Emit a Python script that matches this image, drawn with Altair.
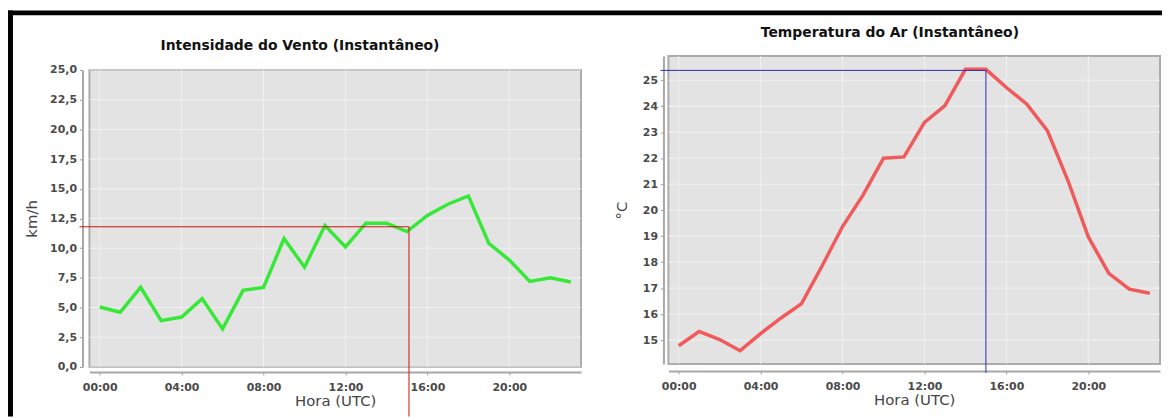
import altair as alt
import pandas as pd

# ---------------- data ----------------
hours = list(range(24))
wind_kmh = [5.05, 4.6, 6.7, 3.9, 4.2, 5.75, 3.2, 6.45, 6.7, 10.8, 8.4, 11.9,
            10.1, 12.1, 12.1, 11.4, 12.75, 13.7, 14.4, 10.4, 9.0, 7.2, 7.5, 7.15]
temp_c = [14.78, 15.33, 15.02, 14.59, 15.25, 15.85, 16.4, 17.85, 19.37, 20.58, 22.0, 22.05,
          23.38, 24.02, 25.42, 25.42, 24.72, 24.08, 23.06, 21.15, 18.97, 17.57, 16.96, 16.80]

hour_ticks = [0, 4, 8, 12, 16, 20]
wind_ticks = [0, 2.5, 5, 7.5, 10, 12.5, 15, 17.5, 20, 22.5, 25]
temp_ticks = [15, 16, 17, 18, 19, 20, 21, 22, 23, 24, 25]

hour_domain = [-0.5, 23.5]
wind_domain = [0, 25]
temp_domain = [14.08, 25.93]

wind_cursor_hour = [15.1]
wind_cursor_value = [11.8]
temp_cursor_hour = [15.0]
temp_cursor_value = [25.38]

title_wind = "Intensidade do Vento (Instantâneo)"
title_temp = "Temperatura do Ar (Instantâneo)"
x_title = "Hora (UTC)"
y_title_wind = "km/h"
y_title_temp = "°C"

# ---------------- layout (pixels, chart coordinates) ----------------
W, H = 1162, 410
L_X, L_Y = [82, 577], [360, 61]
R_X, R_Y = [665, 1160], [357, 47]

FONT = "DejaVu Sans"
hour_label = "(datum.value < 10 ? '0' : '') + datum.value + ':00'"
wind_fmt = "replace(format(datum.value, '.1f'), '.', ',')"
temp_fmt = "format(datum.value, 'd')"


def axis(orient, offset, values, label_expr, title, title_x, title_y):
    kw = dict(
        orient=orient, offset=offset, values=values, labelExpr=label_expr,
        title=title, grid=False,
        domainColor="#a8a8a8", domainWidth=2, tickColor="#999999", tickSize=3,
        labelFont=FONT, labelFontSize=11, labelFontWeight="bold", labelColor="#4a4a4a",
        labelFlush=False, labelOverlap=False,
        titleFont=FONT, titleFontSize=15, titleFontWeight="normal", titleColor="#444444",
        titleAlign="center", titleBaseline="middle", titleX=title_x, titleY=title_y,
    )
    if orient == "left":
        kw.update(labelPadding=3, titleAngle=270)
    else:
        kw.update(labelPadding=7)
    return alt.Axis(**kw)


def panel(values, domain_y, ticks_y, xr, yr, y_off, x_off, y_fmt, y_title, y_title_x,
          color, cur_h, cur_v, cur_color, cur_bottom):
    xs = alt.Scale(domain=hour_domain, range=xr, nice=False, zero=False)
    ys = alt.Scale(domain=domain_y, range=yr, nice=False, zero=False)

    def X(f="hour", **kw):
        return alt.X(f"{f}:Q", scale=xs, axis=None, **kw)

    def Y(f="value", **kw):
        return alt.Y(f"{f}:Q", scale=ys, axis=None, **kw)

    box = pd.DataFrame({"hour": [hour_domain[0]], "hour2": [hour_domain[1]],
                        "value": [domain_y[0]], "value2": [domain_y[1]]})
    bg = alt.Chart(box).mark_rect(fill="#e3e3e3", stroke="#ababab", strokeWidth=2).encode(
        x=X(), x2="hour2:Q", y=Y(), y2="value2:Q")

    vgrid_df = pd.DataFrame({"hour": hour_ticks, "value": domain_y[0], "value2": domain_y[1]})
    vgrid = alt.Chart(vgrid_df).mark_rule(color="#f4f4f4", strokeWidth=1, opacity=0.8).encode(
        x=X(), y=Y(), y2="value2:Q")
    hgrid_df = pd.DataFrame({"value": ticks_y, "hour": hour_domain[0], "hour2": hour_domain[1]})
    hgrid = alt.Chart(hgrid_df).mark_rule(color="#f4f4f4", strokeWidth=1, opacity=0.8).encode(
        y=Y(), x=X(), x2="hour2:Q")

    df = pd.DataFrame({"hour": hours, "value": values})
    line = alt.Chart(df).mark_line(color=color, strokeWidth=3.5, strokeJoin="miter").encode(
        x=alt.X("hour:Q", scale=xs,
                axis=axis("bottom", x_off, hour_ticks, hour_label, x_title,
                          (xr[0] + xr[1]) / 2, 29)),
        y=alt.Y("value:Q", scale=ys,
                axis=axis("left", y_off, ticks_y, y_fmt, y_title,
                          y_title_x, (yr[0] + yr[1]) / 2)),
    )
    cur = pd.DataFrame({"hour": cur_h, "value": cur_v})
    hrule = alt.Chart(cur).mark_rule(color=cur_color, strokeWidth=1).encode(
        x=X(), x2=alt.value(-y_off - 3), y=Y())
    vrule = alt.Chart(cur).mark_rule(color=cur_color, strokeWidth=1).encode(
        x=X(), y=Y(), y2=alt.value(cur_bottom))
    return [bg, vgrid, hgrid, line, hrule, vrule]


left = panel(wind_kmh, wind_domain, wind_ticks, L_X, L_Y, -75, -45, wind_fmt,
             y_title_wind, -51, "#38e838", wind_cursor_hour, wind_cursor_value,
             "#d01010", H)
right = panel(temp_c, temp_domain, temp_ticks, R_X, R_Y, -660, -46, temp_fmt,
              y_title_temp, -42, "#f05a5a", temp_cursor_hour, temp_cursor_value,
              "#2a2ab8", 366)

one = pd.DataFrame({"a": [0]})
t_left = alt.Chart(pd.DataFrame({"t": [title_wind]})).mark_text(
    font=FONT, fontSize=14, fontWeight="bold", color="#111111", align="center",
    baseline="middle").encode(text="t:N", x=alt.value(294), y=alt.value(37))
t_right = alt.Chart(pd.DataFrame({"t": [title_temp]})).mark_text(
    font=FONT, fontSize=14, fontWeight="bold", color="#111111", align="center",
    baseline="middle").encode(text="t:N", x=alt.value(888), y=alt.value(24))
border_top = alt.Chart(one).mark_rule(color="black", strokeWidth=5).encode(
    x=alt.value(0), x2=alt.value(W), y=alt.value(3.5))
border_left = alt.Chart(one).mark_rule(color="black", strokeWidth=5).encode(
    x=alt.value(2.5), y=alt.value(1), y2=alt.value(H))

chart = alt.layer(*left, *right, t_left, t_right, border_top, border_left).resolve_scale(
    x="independent", y="independent"
).properties(
    width=W, height=H, padding=0,
    autosize=alt.AutoSizeParams(type="none"),
    background="white",
).configure_view(stroke=None)

chart.save("out.html", embed_options={"renderer": "svg", "actions": False})
